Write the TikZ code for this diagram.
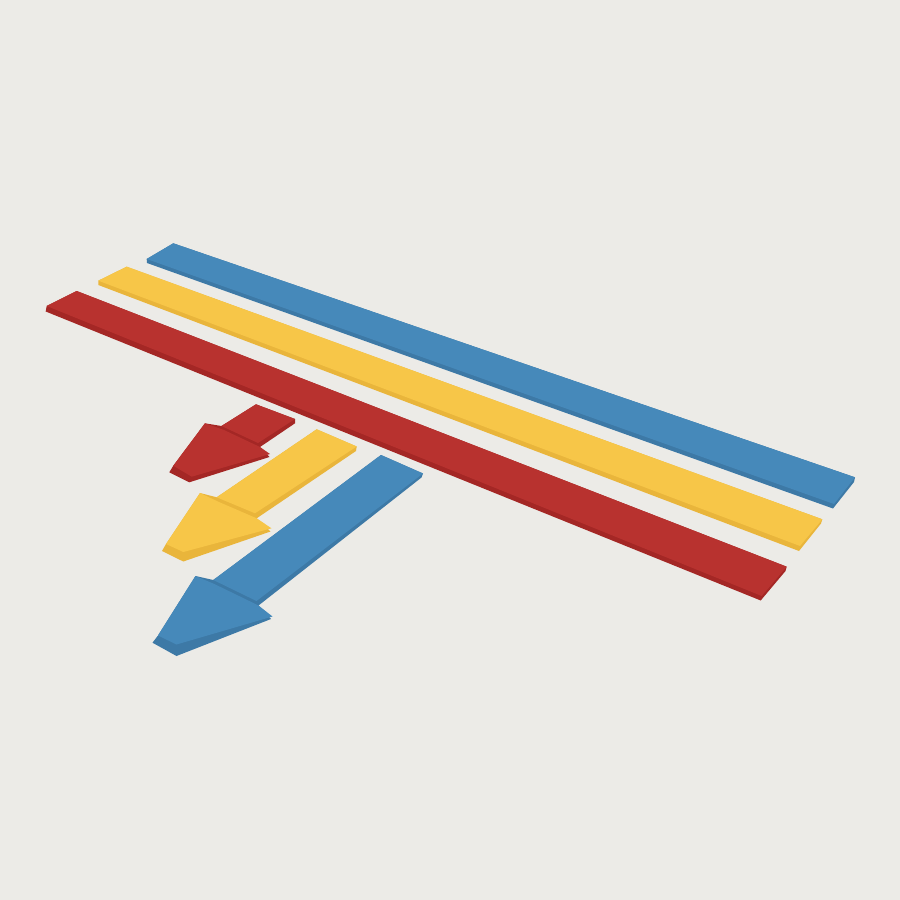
\documentclass[tikz,border=0pt]{standalone}
\definecolor{paper}{HTML}{ECEBE7}
\definecolor{bluetop}{HTML}{4689BA}
\definecolor{blueside}{HTML}{3D79A6}
\definecolor{yellowtop}{HTML}{F7C648}
\definecolor{yellowside}{HTML}{E9B53B}
\definecolor{redtop}{HTML}{B8322F}
\definecolor{redside}{HTML}{A42725}
\begin{document}
\begin{tikzpicture}[x=1pt,y=1pt,yscale=-1]
\fill[paper] (0,0) rectangle (900,900);

% long bars
\fill[blueside] (146.7,259) -- (173.3,243.3) -- (855,477.3) -- (854,482) -- (833,508.5) -- (147,263) -- cycle ;
\fill[bluetop] (146.7,259) -- (173.3,243.3) -- (855,477.3) -- (834,504) -- cycle ;
\fill[yellowside] (98.3,280.7) -- (126.7,266.7) -- (822.3,519.3) -- (821,523.5) -- (799,551) -- (98.3,285) -- cycle ;
\fill[yellowtop] (98.3,280.7) -- (126.7,266.7) -- (822.3,519.3) -- (800,546) -- cycle ;
\fill[redside] (46.7,306) -- (76.7,291) -- (786.7,566.7) -- (785.5,571) -- (760.7,600.5) -- (45.7,311.5) -- cycle ;
\fill[redtop] (46.7,306) -- (76.7,291) -- (786.7,566.7) -- (761.7,596) -- cycle ;

% red arrow
\fill[redside] (256,404.3) -- (295,419) -- (295,423.3) -- (260,447) -- (269.5,457) -- (189.3,482.3) -- (169.3,472.3) -- (173.3,465.7) -- (205,423.3) -- (221.5,426) -- cycle ;
\fill[redtop] (256,404.3) -- (295,419) -- (258,443) -- (221.5,426) -- cycle ;
\fill[redtop] (205,423.3) -- (224,430) -- (260,447) -- (270,454) -- (191.7,476.7) -- (173.3,465.7) -- cycle ;

% yellow arrow
\fill[yellowside] (316.7,429.3) -- (356.7,446.5) -- (356,451) -- (256.7,518.3) -- (270.5,531.5) -- (183.3,561.5) -- (162,551) -- (166,544) -- (200,493) -- (216.7,497.3) -- cycle ;
\fill[yellowtop] (316.7,429.3) -- (356.7,446.5) -- (255,513.3) -- (216.7,497.3) -- cycle ;
\fill[yellowtop] (200,493) -- (218.3,501.7) -- (256.7,518.3) -- (271.5,528.3) -- (183.3,552) -- (166,544) -- cycle ;

% blue arrow
\fill[blueside] (381,455) -- (423,473.5) -- (421.5,477.5) -- (258.5,605.5) -- (271,619) -- (176.5,656) -- (152.5,642.7) -- (158,635.5) -- (195.5,576) -- (213.3,580) -- cycle ;
\fill[bluetop] (381,455) -- (423,473.5) -- (256.5,601) -- (213.3,580) -- cycle ;
\fill[bluetop] (195.5,576) -- (215,584.3) -- (258.5,605.5) -- (272.5,616.5) -- (176.5,644.5) -- (158,635.5) -- cycle ;

\end{tikzpicture}
\end{document}
